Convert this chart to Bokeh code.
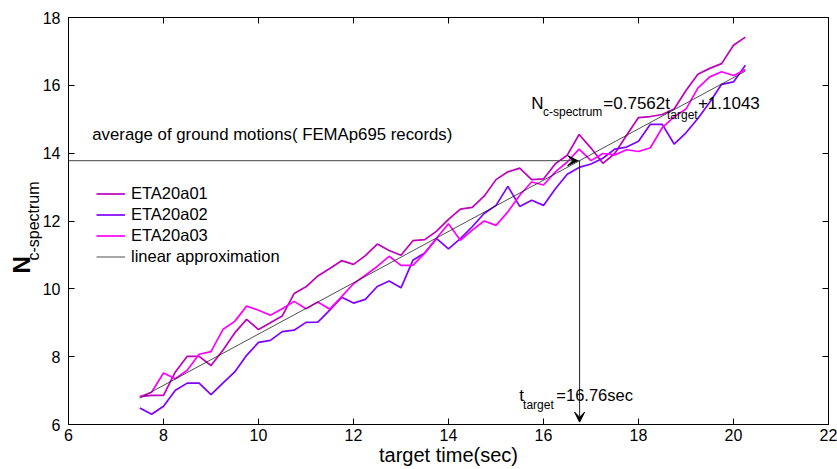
from bokeh.plotting import figure
from bokeh.models import (Range1d, FixedTicker, LinearAxis, Label, Legend,
                          LegendItem, Arrow, VeeHead, Title)
from bokeh.embed import file_html
from bokeh.resources import INLINE

# ---------------- data ----------------
target_time = [7.5, 7.75, 8.0, 8.25, 8.5, 8.75, 9.0, 9.25, 9.5, 9.75,
               10.0, 10.25, 10.5, 10.75, 11.0, 11.25, 11.5, 11.75, 12.0, 12.25,
               12.5, 12.75, 13.0, 13.25, 13.5, 13.75, 14.0, 14.25, 14.5, 14.75,
               15.0, 15.25, 15.5, 15.75, 16.0, 16.25, 16.5, 16.75, 17.0, 17.25,
               17.5, 17.75, 18.0, 18.25, 18.5, 18.75, 19.0, 19.25, 19.5, 19.75,
               20.0, 20.25]

eta20a01 = [6.82, 6.86, 6.86, 7.55, 8.01, 8.01, 7.74, 8.19, 8.70, 9.10,
            8.80, 9.00, 9.20, 9.86, 10.06, 10.38, 10.60, 10.83, 10.72, 10.98,
            11.32, 11.13, 10.99, 11.42, 11.45, 11.70, 12.05, 12.35, 12.40, 12.73,
            13.22, 13.45, 13.56, 13.22, 13.24, 13.69, 13.94, 14.55, 14.15, 13.70,
            13.99, 14.53, 15.05, 15.08, 15.14, 15.30, 15.85, 16.33, 16.50, 16.64,
            17.18, 17.42]

eta20a02 = [6.49, 6.30, 6.54, 7.01, 7.22, 7.22, 6.88, 7.22, 7.55, 8.04,
            8.42, 8.48, 8.74, 8.78, 9.01, 9.02, 9.37, 9.75, 9.58, 9.69,
            10.07, 10.23, 10.03, 10.84, 11.06, 11.48, 11.18, 11.48, 11.83, 12.22,
            12.46, 13.02, 12.43, 12.61, 12.46, 12.95, 13.38, 13.58, 13.68, 13.85,
            14.12, 14.18, 14.35, 14.85, 14.85, 14.27, 14.60, 15.02, 15.50, 16.03,
            16.10, 16.59]

eta20a03 = [6.82, 6.95, 7.52, 7.35, 7.60, 8.07, 8.15, 8.80, 9.04, 9.49,
            9.37, 9.22, 9.41, 9.63, 9.41, 9.61, 9.40, 9.77, 10.15, 10.40,
            10.66, 10.96, 10.69, 10.69, 11.05, 11.50, 11.92, 11.43, 11.73, 12.00,
            11.87, 12.27, 12.76, 13.15, 13.06, 13.45, 13.74, 14.12, 13.78, 13.99,
            13.95, 14.10, 14.05, 14.16, 14.75, 15.07, 15.30, 15.92, 16.25, 16.40,
            16.29, 16.46]

fit_slope = 0.7562
fit_intercept = 1.1043
fit_x = [7.5, 20.25]
fit_y = [fit_slope * v + fit_intercept for v in fit_x]

t_target = 16.76
n_target = fit_slope * t_target + fit_intercept

x_ticks = [6, 8, 10, 12, 14, 16, 18, 20, 22]
y_ticks = [6, 8, 10, 12, 14, 16, 18]

series_names = ["ETA20a01", "ETA20a02", "ETA20a03", "linear approximation"]
series_colors = ["#BF00BF", "#7F00FF", "#FF00FF", "#222222"]

FONT = "Liberation Sans"

# ---------------- figure ----------------
p = figure(width=837, height=469, x_range=Range1d(6, 22), y_range=Range1d(6, 18),
           output_backend="svg", toolbar_location=None,
           min_border_left=68, min_border_right=9, min_border_top=17,
           min_border_bottom=45)
p.xgrid.visible = False
p.ygrid.visible = False
p.outline_line_color = "black"
p.outline_line_width = 1
p.background_fill_color = "white"
p.border_fill_color = "white"

for ax, ticks in ((p.xaxis[0], x_ticks), (p.yaxis[0], y_ticks)):
    ax.ticker = FixedTicker(ticks=ticks)
    ax.major_label_text_font = FONT
    ax.major_label_text_font_size = "16px"
    ax.major_label_text_color = "black"
    ax.major_tick_in = 6
    ax.major_tick_out = 0
    ax.minor_tick_in = 0
    ax.minor_tick_out = 0
    ax.axis_line_color = "black"
    ax.major_tick_line_color = "black"
    ax.axis_label_text_font = FONT
    ax.axis_label_text_font_style = "normal"
    ax.axis_label_text_color = "black"

p.xaxis.major_label_standoff = 4
p.xaxis.axis_label = "target time(sec)"
p.xaxis.axis_label_text_font_size = "20px"
p.xaxis.axis_label_standoff = 0

p.yaxis.major_label_standoff = 8
p.yaxis.axis_label = "c-spectrum"
p.yaxis.axis_label_text_font_size = "16px"
p.yaxis.axis_label_standoff = -2

# big "N" of the y label, placed just outside the axis label
p.add_layout(Title(text="N", text_font=FONT, text_font_size="24px",
                   text_font_style="bold", text_color="black",
                   align="left", offset=151, vertical_align="bottom",
                   standoff=-27), "left")

for loc, ticks in (("above", x_ticks), ("right", y_ticks)):
    ax = LinearAxis(ticker=FixedTicker(ticks=ticks), major_label_text_font_size="1px",
                    major_label_text_color=None,
                    major_tick_in=6, major_tick_out=0, minor_tick_in=0, minor_tick_out=0,
                    axis_line_color=None, major_label_standoff=0,
                    major_tick_line_color="black")
    p.add_layout(ax, loc)

# ---------------- lines ----------------
r1 = p.line(target_time, eta20a01, line_color=series_colors[0], line_width=1.7)
r2 = p.line(target_time, eta20a02, line_color=series_colors[1], line_width=1.7)
r3 = p.line(target_time, eta20a03, line_color=series_colors[2], line_width=1.7)
r4 = p.line(fit_x, fit_y, line_color=series_colors[3], line_width=0.8)

legend = Legend(items=[LegendItem(label=series_names[0], renderers=[r1]),
                       LegendItem(label=series_names[1], renderers=[r2]),
                       LegendItem(label=series_names[2], renderers=[r3]),
                       LegendItem(label=series_names[3], renderers=[r4])],
                location=(28, 157), padding=0, margin=0, spacing=0,
                glyph_width=29, glyph_height=21, label_height=21, label_standoff=6,
                border_line_color=None, background_fill_alpha=0,
                label_text_font=FONT, label_text_font_size="16.5px",
                label_text_color="black")
p.add_layout(legend)

# ---------------- arrows ----------------
p.add_layout(Arrow(end=VeeHead(size=10, fill_color="black", line_color="black"),
                   x_start=6, y_start=n_target, x_end=16.72, y_end=n_target,
                   line_color="#444444", line_width=1))
p.add_layout(Arrow(end=VeeHead(size=10, fill_color="black", line_color="black"),
                   x_start=t_target, y_start=n_target, x_end=t_target, y_end=6.07,
                   line_color="#222222", line_width=1))
p.segment(x0=[16.70], y0=[n_target], x1=[t_target], y1=[n_target],
          line_color="#444444", line_width=1)


def lab(text, x, y, size):
    p.add_layout(Label(x=x, y=y, text=text, text_font=FONT, text_font_size=size,
                       text_align="left", text_baseline="middle", text_color="black"))


# annotation texts
lab("average of  ground motions( FEMAp695 records)", 6.50, 14.55, "16.8px")
lab("N", 15.74, 15.47, "17px")
lab("c-spectrum", 15.99, 15.20, "12px")
lab("=0.7562t", 17.26, 15.47, "17px")
lab("target", 18.60, 15.14, "12px")
lab("+1.1043", 19.25, 15.47, "17px")

lab("t", 15.49, 6.86, "17px")
lab("target", 15.57, 6.57, "12px")
lab("=16.76sec", 16.27, 6.86, "16.5px")

open("out.html", "w").write(file_html(p, INLINE))
